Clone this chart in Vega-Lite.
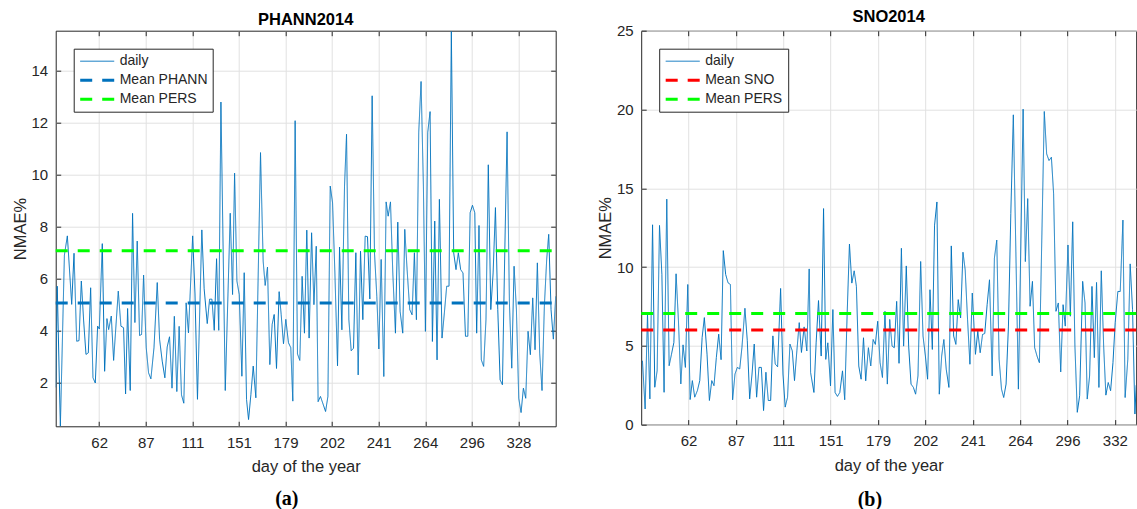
{
  "$schema": "https://vega.github.io/schema/vega-lite/v6.json",
  "background": "white",
  "padding": {"left": 10.7, "top": 7.7, "right": 0, "bottom": 0},
  "config": {
    "font": "Liberation Sans",
    "view": {"stroke": "#262626", "strokeWidth": 1},
    "axis": {"gridColor": "#e1e1e1", "gridWidth": 1, "domain": false, "ticks": true, "tickSize": -5, "tickColor": "#262626", "tickWidth": 1, "labelColor": "#262626", "labelFontSize": 15, "labelFont": "Liberation Sans", "titleColor": "#262626", "titleFontSize": 16.5, "titleFontWeight": "normal", "titleFont": "Liberation Sans", "labelPadding": 13, "titlePadding": 3},
    "axisX": {"titlePadding": 8.5, "labelPadding": 14},
    "legend": {"orient": "top-left", "offset": 17.5, "strokeColor": "#262626", "fillColor": "white", "padding": 5, "symbolType": "M-1,0H3.857", "symbolSize": 196, "labelFontSize": 14, "labelFont": "Liberation Sans", "labelColor": "#262626", "rowPadding": 3, "labelOffset": 24, "cornerRadius": 0},
    "title": {"fontSize": 16.5, "fontWeight": "bold", "color": "#000000", "font": "Liberation Sans"}
  },
  "datasets": {
    "a_daily": [
      {"i":1,"v":1.8},{"i":2,"v":5.7},{"i":4,"v":0.3},{"i":6.6,"v":6.9},{"i":8.5,"v":7.64},{"i":11.3,"v":5.0},{"i":12.8,"v":6.97},{"i":14.5,"v":3.58},{"i":16,"v":3.6},{"i":17.5,"v":5.9},{"i":19,"v":4.36},{"i":20.5,"v":3.07},{"i":22,"v":3.13},{"i":23.5,"v":5.64},{"i":25,"v":2.17},{"i":26.5,"v":1.97},{"i":28,"v":4.16},{"i":29.1,"v":4.05},{"i":31,"v":7.34},{"i":32.5,"v":2.42},{"i":34,"v":4.45},{"i":35.1,"v":4.03},{"i":36.8,"v":4.55},{"i":38.3,"v":2.84},{"i":41.3,"v":5.51},{"i":43,"v":4.16},{"i":44.7,"v":4.1},{"i":46,"v":1.55},{"i":47.3,"v":4.84},{"i":49,"v":1.68},{"i":50.5,"v":8.51},{"i":52,"v":4.3},{"i":53.5,"v":7.44},{"i":55,"v":3.8},{"i":56.3,"v":3.84},{"i":57.6,"v":6.13},{"i":59.3,"v":3.33},{"i":60.8,"v":2.36},{"i":62.3,"v":2.13},{"i":64.3,"v":3.33},{"i":66.4,"v":5.84},{"i":67.9,"v":3.65},{"i":69.6,"v":2.81},{"i":71.3,"v":2.17},{"i":72.8,"v":3.36},{"i":74.3,"v":3.75},{"i":75.9,"v":1.77},{"i":77.4,"v":4.54},{"i":79,"v":1.64},{"i":80.5,"v":4.15},{"i":82,"v":1.51},{"i":83.5,"v":1.19},{"i":85,"v":5.06},{"i":86.5,"v":3.9},{"i":89.2,"v":7.64},{"i":90.7,"v":5.4},{"i":92.3,"v":1.34},{"i":95.1,"v":7.87},{"i":96.6,"v":5.6},{"i":98.6,"v":4.26},{"i":100.1,"v":5.2},{"i":101.6,"v":5.2},{"i":103.1,"v":4.0},{"i":104.6,"v":6.76},{"i":106,"v":4.0},{"i":107.4,"v":12.8},{"i":110.2,"v":1.68},{"i":113.4,"v":8.51},{"i":114.9,"v":5.38},{"i":116.2,"v":10.06},{"i":117.7,"v":5.9},{"i":119.2,"v":5.38},{"i":120.9,"v":2.23},{"i":122.4,"v":6.22},{"i":123.9,"v":1.33},{"i":125.2,"v":0.56},{"i":126.7,"v":1.52},{"i":128.2,"v":2.62},{"i":129.9,"v":1.4},{"i":132.9,"v":10.85},{"i":134.6,"v":6.67},{"i":135.9,"v":5.73},{"i":137.4,"v":6.44},{"i":138.9,"v":2.68},{"i":140.4,"v":4.23},{"i":141.7,"v":4.61},{"i":143.2,"v":2.53},{"i":144.9,"v":5.49},{"i":146.2,"v":4.61},{"i":147.7,"v":3.48},{"i":149.2,"v":4.42},{"i":150.9,"v":3.52},{"i":152.4,"v":3.33},{"i":153.7,"v":1.27},{"i":155.2,"v":12.08},{"i":156.7,"v":3.09},{"i":158.2,"v":2.84},{"i":159.7,"v":6.08},{"i":161.2,"v":3.89},{"i":162.7,"v":7.86},{"i":164.2,"v":3.7},{"i":165.8,"v":7.76},{"i":167.3,"v":4.99},{"i":168.8,"v":7.24},{"i":170,"v":1.25},{"i":171.5,"v":1.45},{"i":173,"v":1.19},{"i":174.8,"v":0.87},{"i":176.3,"v":1.45},{"i":177.8,"v":9.56},{"i":179.3,"v":8.92},{"i":180.8,"v":6.21},{"i":182.5,"v":2.63},{"i":183.8,"v":7.21},{"i":185.3,"v":4.02},{"i":187,"v":9.56},{"i":188.3,"v":11.56},{"i":189.8,"v":4.41},{"i":191.3,"v":3.21},{"i":192.8,"v":3.31},{"i":194.3,"v":6.99},{"i":195.8,"v":2.28},{"i":197.3,"v":7.05},{"i":198.8,"v":4.41},{"i":200.3,"v":7.63},{"i":201.8,"v":7.61},{"i":203.3,"v":5.21},{"i":204.8,"v":13.04},{"i":206.3,"v":6.99},{"i":207.8,"v":5.31},{"i":209.1,"v":3.28},{"i":210.6,"v":6.73},{"i":212.3,"v":2.22},{"i":213.8,"v":8.95},{"i":215.1,"v":8.4},{"i":216.6,"v":8.95},{"i":218.1,"v":6.21},{"i":219.8,"v":3.89},{"i":221.3,"v":8.17},{"i":222.8,"v":4.73},{"i":224.5,"v":3.89},{"i":225.8,"v":7.89},{"i":227.3,"v":6.34},{"i":229,"v":4.8},{"i":230.5,"v":4.6},{"i":232,"v":6.99},{"i":233.3,"v":4.41},{"i":234.8,"v":11.63},{"i":236.3,"v":13.59},{"i":237.8,"v":9.56},{"i":239.1,"v":3.96},{"i":240.6,"v":11.63},{"i":242.1,"v":12.43},{"i":243.6,"v":3.57},{"i":245.1,"v":8.21},{"i":246.6,"v":2.86},{"i":248.1,"v":9.05},{"i":249.8,"v":3.7},{"i":251.3,"v":4.67},{"i":252.8,"v":5.7},{"i":254.3,"v":5.7},{"i":255.8,"v":15.52},{"i":257.3,"v":6.99},{"i":258.8,"v":6.34},{"i":260.3,"v":6.99},{"i":261.8,"v":6.34},{"i":263.3,"v":6.21},{"i":264.9,"v":3.77},{"i":266.4,"v":3.77},{"i":267.9,"v":8.53},{"i":269.4,"v":8.82},{"i":270.9,"v":8.53},{"i":272.1,"v":3.89},{"i":273.6,"v":8.04},{"i":275.1,"v":2.86},{"i":276.6,"v":2.61},{"i":278.1,"v":4.41},{"i":279.6,"v":10.38},{"i":281.2,"v":4.8},{"i":282.7,"v":6.21},{"i":284.2,"v":8.73},{"i":285.7,"v":4.8},{"i":287.2,"v":2.09},{"i":288.7,"v":1.9},{"i":290.2,"v":6.99},{"i":291.7,"v":11.65},{"i":293.2,"v":5.05},{"i":294.7,"v":2.54},{"i":296.2,"v":6.47},{"i":297.7,"v":4.8},{"i":299.2,"v":1.38},{"i":300.7,"v":0.83},{"i":302.2,"v":1.77},{"i":303.7,"v":1.38},{"i":305.2,"v":3.96},{"i":306.7,"v":3.06},{"i":308.2,"v":5.25},{"i":309.7,"v":3.25},{"i":311.2,"v":6.6},{"i":312.7,"v":3.12},{"i":314.2,"v":1.68},{"i":315.7,"v":4.93},{"i":317.2,"v":6.73},{"i":318.5,"v":7.7},{"i":320,"v":4.8},{"i":321.5,"v":3.66},{"i":323,"v":5.31}
    ],
    "a_mean": [
      {"s":"Mean PHANN","i":1,"v":5.05},{"s":"Mean PHANN","i":323,"v":5.05},
      {"s":"Mean PERS","i":1,"v":7.07},{"s":"Mean PERS","i":323,"v":7.07}
    ],
    "b_daily": [
      {"i":0.8,"v":4.05},{"i":2.5,"v":0.99},{"i":4,"v":7.0},{"i":5.5,"v":1.63},{"i":7.2,"v":12.68},{"i":8.6,"v":2.37},{"i":10.1,"v":3.42},{"i":11.6,"v":12.64},{"i":13.1,"v":9.53},{"i":14.5,"v":2.05},{"i":16.2,"v":14.31},{"i":17.7,"v":3.74},{"i":19.2,"v":4.47},{"i":20.7,"v":5.21},{"i":22.1,"v":9.57},{"i":23.6,"v":6.58},{"i":25.1,"v":2.58},{"i":26.5,"v":5.06},{"i":28,"v":3.63},{"i":29.5,"v":8.89},{"i":31,"v":1.59},{"i":32.4,"v":2.79},{"i":33.9,"v":1.74},{"i":35.6,"v":2.16},{"i":37.1,"v":2.79},{"i":38.6,"v":5.53},{"i":40,"v":6.79},{"i":41.7,"v":4.47},{"i":43.2,"v":1.53},{"i":44.7,"v":2.79},{"i":46.1,"v":2.47},{"i":47.6,"v":4.26},{"i":49.1,"v":5.74},{"i":50.6,"v":4.12},{"i":52,"v":11.04},{"i":53.5,"v":9.53},{"i":55,"v":9.0},{"i":56.5,"v":8.89},{"i":57.9,"v":1.57},{"i":59.4,"v":3.21},{"i":60.9,"v":3.63},{"i":62.4,"v":3.53},{"i":63.8,"v":4.89},{"i":65.7,"v":7.38},{"i":67.2,"v":5.32},{"i":68.7,"v":1.63},{"i":70.2,"v":3.21},{"i":71.6,"v":5.11},{"i":73.1,"v":1.74},{"i":74.6,"v":3.63},{"i":76.1,"v":3.63},{"i":77.5,"v":0.89},{"i":79,"v":3.32},{"i":80.5,"v":1.53},{"i":82,"v":1.53},{"i":83.4,"v":5.63},{"i":84.9,"v":3.84},{"i":86.4,"v":3.67},{"i":88.3,"v":8.64},{"i":89.8,"v":3.21},{"i":91.2,"v":1.11},{"i":92.7,"v":1.74},{"i":94.2,"v":5.11},{"i":95.7,"v":4.68},{"i":97.1,"v":2.79},{"i":98.6,"v":4.68},{"i":100.1,"v":6.47},{"i":101.5,"v":4.58},{"i":103.2,"v":6.2},{"i":104.9,"v":4.67},{"i":106.4,"v":9.88},{"i":107.3,"v":3.3},{"i":109.4,"v":2.04},{"i":110.8,"v":5.19},{"i":112.3,"v":7.87},{"i":114,"v":4.35},{"i":115.5,"v":13.71},{"i":116.9,"v":4.14},{"i":118.2,"v":5.19},{"i":119.9,"v":2.46},{"i":121.4,"v":7.3},{"i":122.8,"v":2.04},{"i":124.3,"v":1.79},{"i":125.8,"v":2.04},{"i":127.5,"v":3.41},{"i":128.9,"v":1.58},{"i":130.4,"v":6.88},{"i":131.9,"v":11.46},{"i":133.4,"v":8.98},{"i":134.9,"v":9.76},{"i":136.3,"v":8.77},{"i":137.8,"v":3.72},{"i":139.3,"v":2.88},{"i":140.8,"v":5.51},{"i":142.2,"v":2.78},{"i":143.9,"v":4.88},{"i":145.4,"v":3.72},{"i":146.9,"v":5.4},{"i":148.3,"v":5.09},{"i":149.8,"v":6.56},{"i":151.3,"v":3.93},{"i":152.8,"v":2.99},{"i":154.4,"v":7.19},{"i":155.9,"v":2.57},{"i":157.4,"v":6.67},{"i":158.9,"v":4.98},{"i":160.3,"v":4.88},{"i":161.8,"v":7.82},{"i":163.3,"v":3.89},{"i":164.8,"v":11.19},{"i":166.2,"v":4.98},{"i":167.9,"v":10.07},{"i":169.4,"v":4.98},{"i":170.9,"v":2.57},{"i":172.4,"v":2.36},{"i":173.8,"v":1.93},{"i":175.3,"v":3.09},{"i":177,"v":10.35},{"i":178.5,"v":5.62},{"i":180,"v":4.35},{"i":181.4,"v":2.88},{"i":182.9,"v":8.56},{"i":184.4,"v":4.77},{"i":185.8,"v":12.66},{"i":187.3,"v":14.13},{"i":188.8,"v":1.93},{"i":190.3,"v":4.35},{"i":191.7,"v":5.4},{"i":193.2,"v":3.51},{"i":194.9,"v":2.36},{"i":196.4,"v":11.34},{"i":197.9,"v":5.62},{"i":199.3,"v":5.09},{"i":200.8,"v":7.93},{"i":202.3,"v":6.77},{"i":203.8,"v":10.94},{"i":205.2,"v":9.82},{"i":206.7,"v":6.67},{"i":208.2,"v":3.83},{"i":209.7,"v":8.35},{"i":211.7,"v":4.46},{"i":213.2,"v":5.93},{"i":214.7,"v":4.56},{"i":216.2,"v":5.72},{"i":217.6,"v":5.78},{"i":219.1,"v":7.61},{"i":220.6,"v":9.19},{"i":222.3,"v":3.09},{"i":223.7,"v":10.56},{"i":225.2,"v":11.71},{"i":226.7,"v":4.14},{"i":228.2,"v":2.25},{"i":229.6,"v":1.72},{"i":231.1,"v":2.57},{"i":232.6,"v":6.25},{"i":234.1,"v":13.4},{"i":235.7,"v":19.66},{"i":238.9,"v":2.25},{"i":241.9,"v":20.02},{"i":243.3,"v":10.35},{"i":244.8,"v":14.34},{"i":246.3,"v":7.51},{"i":247.8,"v":9.09},{"i":249.2,"v":4.88},{"i":250.7,"v":4.35},{"i":252.2,"v":3.93},{"i":255.3,"v":19.87},{"i":256.8,"v":17.18},{"i":258.3,"v":16.76},{"i":259.8,"v":16.97},{"i":261.2,"v":14.66},{"i":262.7,"v":7.19},{"i":264.2,"v":7.72},{"i":265.7,"v":3.34},{"i":267.2,"v":7.61},{"i":268.6,"v":6.25},{"i":270.3,"v":11.4},{"i":271.8,"v":6.88},{"i":273.3,"v":12.87},{"i":274.7,"v":4.98},{"i":276.2,"v":0.78},{"i":277.7,"v":1.83},{"i":279.6,"v":9.09},{"i":281.1,"v":7.72},{"i":282.5,"v":1.62},{"i":284,"v":3.09},{"i":285.5,"v":8.77},{"i":287,"v":4.25},{"i":288.4,"v":9.02},{"i":289.9,"v":2.36},{"i":291.4,"v":9.76},{"i":292.9,"v":4.98},{"i":294.3,"v":1.87},{"i":295.8,"v":2.67},{"i":297.3,"v":2.15},{"i":298.8,"v":3.93},{"i":300.2,"v":6.46},{"i":301.9,"v":8.45},{"i":303.4,"v":8.45},{"i":305.1,"v":12.98},{"i":306.5,"v":1.72},{"i":308.2,"v":4.14},{"i":309.7,"v":10.2},{"i":311.2,"v":7.3},{"i":312.7,"v":0.67},{"i":313.5,"v":2.5}
    ],
    "b_mean": [
      {"s":"Mean SNO","i":0,"v":6.0},{"s":"Mean SNO","i":313.5,"v":6.0},
      {"s":"Mean PERS","i":0,"v":7.05},{"s":"Mean PERS","i":313.5,"v":7.05}
    ]
  },
  "hconcat": [
    {
      "title": {"text": "(a)", "orient": "bottom", "anchor": "middle", "font": "Liberation Serif", "fontSize": 20, "fontWeight": "bold", "color": "#000000", "offset": 13},
      "vconcat": [
        {
          "width": 500,
          "height": 395.6,
          "title": {"text": "PHANN2014", "offset": 2.15},
          "resolve": {"axis": {"x": "independent", "y": "independent"}},
          "layer": [
            {
              "data": {"name": "a_daily"},
              "mark": {"type": "line", "clip": true},
              "encoding": {
                "x": {"field": "i", "type": "quantitative", "scale": {"domain": [1, 323], "nice": false, "zero": false},
                      "axis": {"orient": "bottom", "values": [29, 59, 89, 119, 149, 179, 209, 239, 269, 299], "labelExpr": "['62','87','111','151','179','202','241','264','296','328'][round((datum.value-29)/30)]", "title": "day of the year"}},
                "y": {"field": "v", "type": "quantitative", "scale": {"domain": [0.3, 15.55], "nice": false, "zero": false},
                      "axis": {"orient": "left", "values": [2, 4, 6, 8, 10, 12, 14], "title": "NMAE%"}},
                "color": {"datum": "daily", "type": "nominal", "scale": {"domain": ["daily", "Mean PHANN", "Mean PERS"], "range": ["#0072BD", "#0072BD", "#00FF00"]}, "legend": {"title": null}},
                "strokeDash": {"datum": "daily", "type": "nominal", "scale": {"domain": ["daily", "Mean PHANN", "Mean PERS"], "range": [[1, 0], [12, 10], [12, 10]]}, "legend": {"title": null}},
                "strokeWidth": {"datum": "daily", "type": "nominal", "scale": {"type": "ordinal", "domain": ["daily", "Mean PHANN", "Mean PERS"], "range": [1, 3, 3]}, "legend": {"title": null}}
              }
            },
            {
              "data": {"name": "a_mean"},
              "mark": {"type": "line"},
              "encoding": {
                "x": {"field": "i", "type": "quantitative", "axis": {"orient": "top", "values": [29, 59, 89, 119, 149, 179, 209, 239, 269, 299], "labels": false, "grid": false, "title": null}},
                "y": {"field": "v", "type": "quantitative", "axis": {"orient": "right", "values": [2, 4, 6, 8, 10, 12, 14], "labels": false, "grid": false, "title": null}},
                "color": {"field": "s", "type": "nominal", "scale": {"domain": ["daily", "Mean PHANN", "Mean PERS"], "range": ["#0072BD", "#0072BD", "#00FF00"]}, "legend": {"title": null}},
                "strokeDash": {"field": "s", "type": "nominal", "scale": {"domain": ["daily", "Mean PHANN", "Mean PERS"], "range": [[1, 0], [12, 10], [12, 10]]}, "legend": {"title": null}},
                "strokeWidth": {"field": "s", "type": "nominal", "scale": {"type": "ordinal", "domain": ["daily", "Mean PHANN", "Mean PERS"], "range": [1, 3, 3]}, "legend": {"title": null}}
              }
            }
          ]
        }
      ]
    },
    {
      "title": {"text": "(b)", "orient": "bottom", "anchor": "middle", "font": "Liberation Serif", "fontSize": 20, "fontWeight": "bold", "color": "#000000", "offset": 16},
      "vconcat": [
        {
          "width": 495,
          "height": 393.9,
          "title": {"text": "SNO2014", "offset": -1.35},
          "resolve": {"axis": {"x": "independent"}},
          "layer": [
            {
              "data": {"name": "b_daily"},
              "mark": {"type": "line", "clip": true},
              "encoding": {
                "x": {"field": "i", "type": "quantitative", "scale": {"domain": [0, 313.5], "nice": false, "zero": false},
                      "axis": {"orient": "bottom", "values": [30, 60, 90, 120, 150, 180, 210, 240, 270, 300], "labelExpr": "['62','87','111','151','179','202','241','264','296','332'][round(datum.value/30)-1]", "title": "day of the year"}},
                "y": {"field": "v", "type": "quantitative", "scale": {"domain": [0, 25], "nice": false, "zero": false},
                      "axis": {"values": [0, 5, 10, 15, 20, 25], "title": "NMAE%"}},
                "color": {"datum": "daily", "type": "nominal", "scale": {"domain": ["daily", "Mean SNO", "Mean PERS"], "range": ["#0072BD", "#FF0000", "#00FF00"]}, "legend": {"title": null}},
                "strokeDash": {"datum": "daily", "type": "nominal", "scale": {"domain": ["daily", "Mean SNO", "Mean PERS"], "range": [[1, 0], [12, 10], [12, 10]]}, "legend": {"title": null}},
                "strokeWidth": {"datum": "daily", "type": "nominal", "scale": {"type": "ordinal", "domain": ["daily", "Mean SNO", "Mean PERS"], "range": [1, 3, 3]}, "legend": {"title": null}}
              }
            },
            {
              "data": {"name": "b_mean"},
              "mark": {"type": "line"},
              "encoding": {
                "x": {"field": "i", "type": "quantitative", "axis": {"orient": "top", "values": [30, 60, 90, 120, 150, 180, 210, 240, 270, 300], "labels": false, "grid": false, "title": null}},
                "y": {"field": "v", "type": "quantitative"},
                "color": {"field": "s", "type": "nominal", "scale": {"domain": ["daily", "Mean SNO", "Mean PERS"], "range": ["#0072BD", "#FF0000", "#00FF00"]}, "legend": {"title": null}},
                "strokeDash": {"field": "s", "type": "nominal", "scale": {"domain": ["daily", "Mean SNO", "Mean PERS"], "range": [[1, 0], [12, 10], [12, 10]]}, "legend": {"title": null}},
                "strokeWidth": {"field": "s", "type": "nominal", "scale": {"type": "ordinal", "domain": ["daily", "Mean SNO", "Mean PERS"], "range": [1, 3, 3]}, "legend": {"title": null}}
              }
            }
          ]
        }
      ]
    }
  ],
  "spacing": 33.5,
  "resolve": {"scale": {"color": "independent", "strokeDash": "independent", "strokeWidth": "independent"}}
}
